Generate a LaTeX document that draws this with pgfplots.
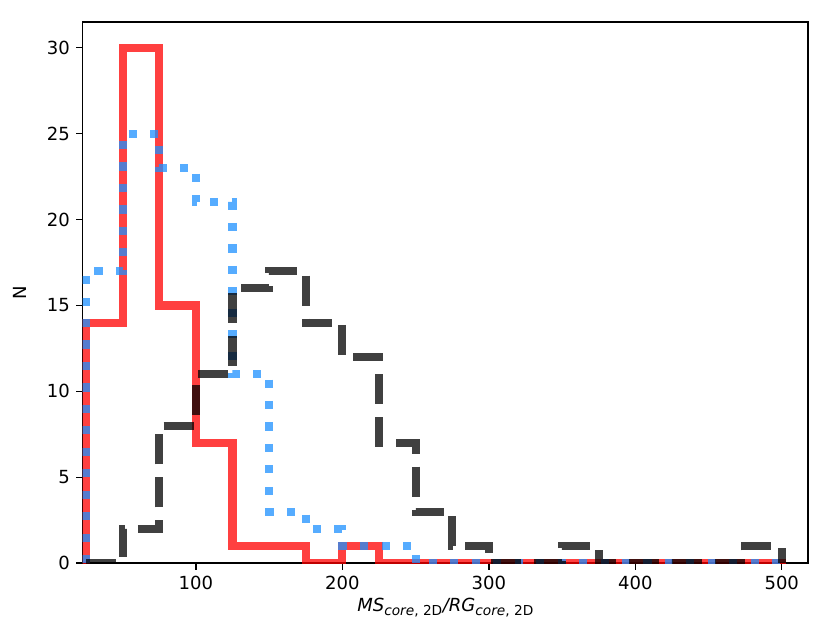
\documentclass[border=0pt]{standalone}
\usepackage{fontspec}
\setmainfont{DejaVu Sans}
\usepackage{pgfplots}
\pgfplotsset{compat=1.18}
\definecolor{mplred}{RGB}{255,0,0}
\definecolor{mplblue}{RGB}{30,144,255}
\newcommand{\sub}[1]{\raisebox{-2.3pt}{\fontsize{7.6}{9}\selectfont #1}}
\begin{document}
\begin{tikzpicture}
\path[use as bounding box] (-45.8pt,-43.7pt) rectangle (415pt,312.3pt);
\begin{axis}[
  at={(0,0)}, anchor=south west,
  scale only axis, width=402.3pt, height=300.1pt,
  xmin=22.6, xmax=518, ymin=0, ymax=31.5,
  xtick={100,200,300,400,500}, ytick={0,5,10,15,20,25,30},
  tick align=outside, xtick pos=bottom, ytick pos=left,
  major tick length=3.5pt,
  every tick/.style={black, line width=0.8pt},
  axis line style={line width=0.8pt},
  tick label style={font=\fontsize{10}{12}\selectfont},
  /pgf/number format/assume math mode=true,
  label style={font=\fontsize{10}{12}\selectfont},
  xlabel={\textit{MS}\sub{\textit{core}, 2D}\kern0.3pt\textit{/RG}\sub{\textit{core}, 2D}},
  ylabel={N},
  xlabel style={at={(axis description cs:0.5,0)}, anchor=base, yshift=-26.6pt},
  ylabel style={at={(axis description cs:0,0.5)}, anchor=center, yshift=34.7pt},
  every axis plot/.append style={line width=4.5pt, const plot mark right, mark=none, line join=miter},
]
\addplot[color=mplred, opacity=0.75, line cap=rect] coordinates {
(25,0) (50,14) (75,30) (100,15) (125,7) (150,1) (175,1) (200,0) (225,1) (250,0) (275,0) (300,0) (325,0) (350,0) (375,0) (400,0) (425,0) (450,0) (475,0) (500,0) (500,0)
};
\addplot[color=mplblue, opacity=0.75, dash pattern=on 4.5pt off 7.4pt] coordinates {
(25,0) (50,17) (75,25) (100,23) (125,21) (150,11) (175,3) (200,2) (225,1) (250,1) (275,0) (300,0) (325,0) (350,0) (375,0) (400,0) (425,0) (450,0) (475,0) (500,0) (500,0)
};
\addplot[color=black, opacity=0.75, dash pattern=on 16.65pt off 7.2pt] coordinates {
(25,0) (50,0) (75,2) (100,8) (125,11) (150,16) (175,17) (200,14) (225,12) (250,7) (275,3) (300,1) (325,0) (350,0) (375,1) (400,0) (425,0) (450,0) (475,0) (500,1) (500,0)
};
\end{axis}
\end{tikzpicture}
\end{document}
